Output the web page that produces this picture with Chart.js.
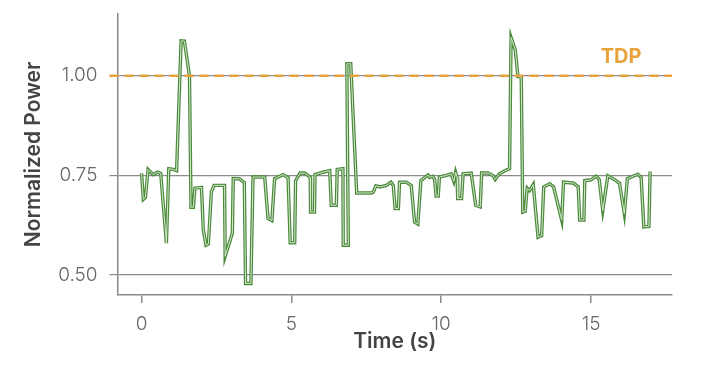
<!DOCTYPE html>
<html>
<head>
<meta charset="utf-8">
<script src="https://cdn.jsdelivr.net/npm/chart.js@4"></script>
<style>
  body { margin: 0; background: #fff; }
  #wrap { width: 711px; height: 365px; }
</style>
</head>
<body>
<div id="wrap"><canvas id="myChart"></canvas></div>
<script>
// time (s) and normalized power
const times = [
  0.0, 0.06, 0.13, 0.22, 0.39, 0.53, 0.64, 0.83, 0.91, 1.06, 1.17, 1.32, 1.43, 1.6, 1.65, 1.73,
  1.78, 2.0, 2.06, 2.15, 2.23, 2.33, 2.42, 2.77, 2.79, 3.03, 3.06, 3.27, 3.43, 3.47, 3.65, 3.72,
  4.11, 4.22, 4.35, 4.44, 4.72, 4.89, 4.96, 5.11, 5.14, 5.29, 5.44, 5.55, 5.63, 5.64, 5.77, 5.79,
  6.06, 6.28, 6.33, 6.5, 6.53, 6.72, 6.73, 6.9, 6.85, 6.98, 7.18, 7.67, 7.73, 7.82, 7.97, 8.17,
  8.32, 8.4, 8.46, 8.57, 8.61, 8.83, 9.0, 9.11, 9.22, 9.32, 9.56, 9.61, 9.72, 9.78, 9.83, 9.9,
  9.94, 10.17, 10.33, 10.42, 10.48, 10.53, 10.55, 10.68, 10.73, 11.0, 11.15, 11.3, 11.35, 11.56, 11.72, 11.8,
  11.94, 12.11, 12.28, 12.33, 12.47, 12.56, 12.67, 12.72, 12.8, 12.87, 12.95, 13.07, 13.23, 13.35, 13.42, 13.62,
  13.75, 14.02, 14.08, 14.4, 14.57, 14.62, 14.76, 14.79, 15.0, 15.17, 15.27, 15.39, 15.56, 15.83, 15.95, 16.11,
  16.21, 16.56, 16.67, 16.76, 16.93, 16.97
];
const power = [
  0.755, 0.69, 0.695, 0.765, 0.752, 0.758, 0.755, 0.58, 0.767, 0.765, 0.762, 1.0875, 1.087, 1.0, 0.67, 0.67,
  0.718, 0.72, 0.615, 0.575, 0.578, 0.708, 0.725, 0.725, 0.547, 0.605, 0.742, 0.741, 0.732, 0.479, 0.479, 0.746,
  0.746, 0.642, 0.637, 0.742, 0.752, 0.744, 0.581, 0.581, 0.737, 0.756, 0.756, 0.75, 0.745, 0.658, 0.658, 0.752,
  0.758, 0.762, 0.675, 0.675, 0.765, 0.767, 0.575, 0.575, 1.03, 1.03, 0.706, 0.706, 0.708, 0.724, 0.721, 0.725,
  0.733, 0.725, 0.667, 0.667, 0.733, 0.733, 0.725, 0.633, 0.628, 0.737, 0.751, 0.745, 0.748, 0.74, 0.698, 0.698,
  0.746, 0.75, 0.754, 0.735, 0.758, 0.745, 0.692, 0.692, 0.754, 0.756, 0.675, 0.671, 0.756, 0.756, 0.75, 0.74,
  0.754, 0.761, 0.767, 1.096, 1.065, 0.998, 0.996, 0.658, 0.66, 0.718, 0.712, 0.727, 0.595, 0.599, 0.721, 0.729,
  0.721, 0.638, 0.733, 0.731, 0.722, 0.638, 0.638, 0.737, 0.739, 0.748, 0.74, 0.662, 0.749, 0.737, 0.73, 0.654,
  0.742, 0.753, 0.745, 0.621, 0.622, 0.76
];
const xTicks = [0, 5, 10, 15];
const yTicks = [0.5, 0.75, 1.0];
const tdpValue = 1.0;
const tdpLabel = "TDP";

const points = times.map((t, i) => ({ x: t, y: power[i] }));
const axisGray = "#8a8a8a";
const orange = "#e8a33c";

// dashed TDP reference line and its label
const tdpPlugin = {
  id: "tdp",
  afterDatasetsDraw(chart) {
    const { ctx, chartArea, scales } = chart;
    const y = scales.y.getPixelForValue(tdpValue);
    ctx.save();
    ctx.strokeStyle = orange;
    ctx.lineWidth = 2.5;
    ctx.setLineDash([9, 6]);
    ctx.beginPath();
    ctx.moveTo(chartArea.left - 8, y);
    ctx.lineTo(chartArea.right, y);
    ctx.stroke();
    ctx.setLineDash([]);
    ctx.fillStyle = orange;
    ctx.font = "bold 20px Inter";
    ctx.textAlign = "center";
    ctx.textBaseline = "alphabetic";
    ctx.fillText(tdpLabel, scales.x.getPixelForValue(16.0), y - 13);
    ctx.restore();
  },
};

new Chart(document.getElementById("myChart"), {
  type: "line",
  data: {
    datasets: [
      {
        // pale core drawn over the darker outline
        data: points,
        borderColor: "#d6e8cf",
        borderWidth: 1,
        pointRadius: 0,
        tension: 0,
      },
      {
        data: points,
        borderColor: "#4b8a3b",
        borderWidth: 3.4,
        pointRadius: 0,
        tension: 0,
      },
    ],
  },
  options: {
    responsive: true,
    maintainAspectRatio: false,
    animation: false,
    layout: { padding: { top: 14, right: 39, bottom: 11, left: 21 } },
    plugins: { legend: { display: false }, tooltip: { enabled: false } },
    scales: {
      x: {
        type: "linear",
        min: -0.8,
        max: 17.7,
        afterBuildTicks: (s) => { s.ticks = xTicks.map((v) => ({ value: v })); },
        grid: { drawOnChartArea: false, drawTicks: true, tickLength: 8, color: axisGray, lineWidth: 1.5 },
        border: { color: axisGray, width: 1.5 },
        ticks: { color: "#666", padding: 10, font: { family: "Inter", size: 19, weight: 300 } },
        title: {
          display: true,
          text: "Time (s)",
          color: "#444",
          padding: { top: -17, bottom: 0 },
          font: { family: "Inter", size: 21, weight: 600 },
        },
      },
      y: {
        min: 0.45,
        max: 1.155,
        afterBuildTicks: (s) => { s.ticks = yTicks.map((v) => ({ value: v })); },
        afterFit: (s) => { s.paddingTop = 0; s.paddingBottom = 0; },
        grid: { color: axisGray, lineWidth: 1.2, tickLength: 8 },
        border: { color: axisGray, width: 1.5 },
        ticks: {
          color: "#666",
          padding: 12,
          font: { family: "Inter", size: 19, weight: 300 },
          callback: (v) => v.toFixed(2),
        },
        title: {
          display: true,
          text: "Normalized Power",
          color: "#444",
          padding: { top: 0, bottom: 0 },
          font: { family: "Inter", size: 21, weight: 600 },
        },
      },
    },
  },
  plugins: [tdpPlugin],
});
</script>
</body>
</html>
